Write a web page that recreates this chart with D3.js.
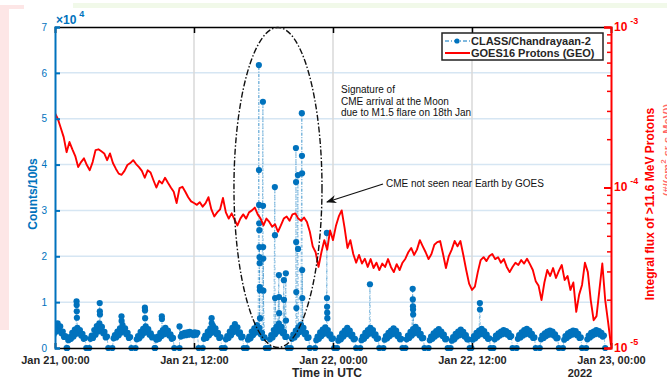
<!DOCTYPE html>
<html>
<head>
<meta charset="utf-8">
<script src="https://cdn.jsdelivr.net/npm/d3@7"></script>
<style>
  body { margin: 0; background: #fff; }
  svg { display: block; font-family: "Liberation Sans", Arial, sans-serif; }
</style>
</head>
<body>
<div id="chart"></div>
<script>
// CLASS/Chandrayaan-2 counts (left) vs GOES16 proton flux (right, log)

const timeTicks = [0, 12, 24, 36, 48]; // hours from Jan 21 00:00 UTC
const timeTickLabels = ['Jan 21, 00:00', 'Jan 21, 12:00', 'Jan 22, 00:00', 'Jan 22, 12:00', 'Jan 23, 00:00'];
const countTicks = [0, 1, 2, 3, 4, 5, 6, 7]; // x 10^4
const fluxTicks = [1e-5, 1e-4, 1e-3];
const fluxTickExps = ['-5', '-4', '-3'];

// CLASS orbit humps: centre hour of each orbit, counts at fixed offsets round it
const orbitOffsets = [-0.85, -0.74, -0.63, -0.52, -0.41, -0.3, -0.19, -0.08, 0.03, 0.14, 0.25, 0.36, 0.47, 0.58, 0.69, 0.8];
const orbitCentres = [0.2, 1.9, 3.8, 5.8, 7.8, 9.5, 11.6, 13.6, 15.5, 17.4, 19.3, 21.2, 23.3,
    25.2, 27.2, 29.2, 31.1, 33.1, 35.0, 36.8, 38.7, 40.7, 42.7, 44.7, 46.7];
const orbitCounts = [
    [0, 2200, 2900, 2400, 3800, 3000, 4600, 3600, 5400, 4000, 4700, 3200, 3600, 2400, 2600, 0],
    [0, 1700, 2400, 2000, 3300, 2500, 4000, 3100, 4400, 3300, 3900, 2700, 3100, 2000, 2200, 0],
    [0, 2000, 2700, 2200, 3900, 2900, 4800, 3600, 5400, 4000, 4600, 3200, 3500, 2300, 2500, 0],
    [0, 2100, 2800, 2300, 3600, 2800, 4300, 3400, 5000, 3700, 4300, 3000, 3300, 2200, 2400, 0],
    [0, 1900, 2600, 2100, 3500, 2700, 4200, 3300, 4700, 3500, 4100, 2900, 3200, 2300, 2400, 0],
    [0, 1800, 2500, 2000, 3300, 2600, 3900, 3000, 4400, 3200, 3800, 2700, 3000, 2000, 2200, 0],
    [0, 2500, 3100, 2700, 3300, 2800, 3400, 2900, 3500, 3000, 3300, 2800, 3400, 2900, 3300, 0],
    [0, 2000, 2700, 2200, 3600, 2800, 4300, 3300, 4900, 3600, 4300, 3000, 3300, 2200, 2400, 0],
    [0, 1900, 2600, 2200, 3600, 2800, 4400, 3500, 5200, 3900, 4500, 3100, 3400, 2300, 2500, 0],
    [0, 1800, 2500, 2100, 3600, 2800, 4300, 3400, 5000, 3800, 4400, 3000, 3300, 2200, 2300, 0],
    [0, 1900, 2800, 2300, 3900, 3000, 4600, 3600, 5300, 3900, 4600, 3200, 3500, 2400, 2500, 0],
    [0, 2000, 2900, 2300, 3800, 2900, 4500, 3500, 5100, 3700, 4400, 3000, 3300, 2200, 2300, 0],
    [0, 1700, 2500, 2000, 3400, 2600, 4000, 3100, 4500, 3300, 3900, 2700, 3000, 2000, 2100, 0],
    [0, 1600, 2300, 1900, 3200, 2500, 3800, 3000, 4400, 3200, 3800, 2600, 2900, 1900, 2000, 0],
    [0, 1700, 2500, 2000, 3300, 2600, 3900, 3100, 4400, 3300, 3900, 2700, 3000, 2000, 2100, 0],
    [0, 1800, 2600, 2100, 3300, 2600, 3800, 3000, 4300, 3200, 3800, 2600, 2900, 1900, 2000, 0],
    [0, 1900, 2700, 2200, 3500, 2700, 4100, 3200, 4600, 3400, 4000, 2800, 3100, 2100, 2200, 0],
    [0, 1700, 2500, 2000, 3200, 2500, 3700, 2900, 4100, 3100, 3600, 2600, 2900, 1900, 2000, 0],
    [0, 1600, 2400, 1900, 3100, 2500, 3600, 2800, 4000, 3000, 3500, 2500, 2800, 1900, 1900, 0],
    [0, 1800, 2600, 2100, 3300, 2600, 3800, 3000, 4200, 3100, 3700, 2600, 2900, 2000, 2100, 0],
    [0, 1900, 2700, 2300, 3200, 2700, 3600, 3000, 3900, 3200, 3700, 2900, 3300, 2400, 2600, 0],
    [0, 2000, 2800, 2300, 3400, 2700, 3900, 3000, 4200, 3200, 3800, 2800, 3100, 2200, 2300, 0],
    [0, 1900, 2700, 2200, 3200, 2600, 3600, 2900, 3800, 3000, 3600, 2700, 3000, 2100, 2200, 0],
    [0, 1800, 2600, 2200, 3200, 2600, 3500, 2900, 3800, 3100, 3700, 2800, 3100, 2200, 2300, 0],
    [0, 1900, 2700, 2300, 3300, 2700, 3600, 3000, 3900, 3200, 3700, 2900, 3300, 2500, 2700, 0]
];

// isolated high readings (CME signature between ~17 and ~24 h)
const spikeHours = [1.86, 1.87, 1.88, 1.89, 3.86, 3.87, 3.88, 5.74, 5.75, 7.76, 7.77, 7.78, 9.22, 9.23, 10.75, 13.52, 13.53,
    17.60, 17.61, 17.62, 17.63, 17.64, 17.65, 17.66, 17.67, 17.68, 17.69, 17.70,
    17.95, 17.96, 17.97, 17.98, 17.99, 18.98, 18.99, 19.00, 19.33, 19.34, 19.35, 19.76, 19.77, 19.93, 19.94,
    20.80, 20.81, 20.82, 20.83, 20.84, 20.97, 20.98, 21.31, 21.32, 21.33, 21.34, 21.35,
    23.47, 23.48, 23.49, 23.50, 23.51, 27.19, 30.88, 30.89, 30.90, 30.91, 30.92, 36.68, 36.69];
const spikeCounts = [10200, 9400, 8000, 6600, 9800, 8000, 7300, 6900, 5900, 8800, 8200, 6500, 6900, 6300, 4700, 6500, 5400,
    61700, 38800, 31200, 27200, 25700, 22000, 19800, 18500, 13300, 12600, 6500,
    53700, 31000, 22000, 19500, 12500, 35100, 24600, 10900, 15900, 11100, 7600, 14800, 10500, 16300, 6000,
    43600, 36200, 23100, 12200, 8700, 37700, 21600, 51200, 41900, 38100, 17000, 10900,
    25100, 10900, 9000, 7700, 6500, 13900, 12900, 10600, 9100, 8400, 7300, 9800, 8400];

// GOES16 >11.6 MeV integral proton flux, sampled every 15 min from Jan 21 00:00
const protonStepHours = 0.25;
const protonFlux = [
    2.9e-4, 2.67e-4, 2.35e-4, 2.06e-4, 1.66e-4, 1.92e-4, 1.73e-4, 1.57e-4, 1.34e-4, 1.44e-4, 1.52e-4, 1.38e-4, 1.28e-4, 1.44e-4, 1.71e-4, 1.73e-4,
    1.68e-4, 1.63e-4, 1.48e-4, 1.63e-4, 1.42e-4, 1.31e-4, 1.22e-4, 1.20e-4, 1.27e-4, 1.38e-4, 1.42e-4, 1.48e-4, 1.40e-4, 1.34e-4, 1.27e-4, 1.15e-4,
    1.28e-4, 1.24e-4, 1.11e-4, 1.00e-4, 1.10e-4, 1.06e-4, 1.15e-4, 1.07e-4, 1.00e-4, 9.4e-5, 8.0e-5, 9.9e-5, 1.01e-4, 9.4e-5, 8.7e-5, 8.2e-5,
    8.0e-5, 7.8e-5, 8.1e-5, 7.6e-5, 8.0e-5, 8.7e-5, 7.3e-5, 6.6e-5, 7.0e-5, 7.3e-5, 8.6e-5, 7.0e-5, 6.4e-5, 6.9e-5, 6.3e-5, 5.8e-5,
    6.4e-5, 6.8e-5, 6.4e-5, 7.0e-5, 7.2e-5, 7.5e-5, 6.8e-5, 6.4e-5, 5.8e-5, 6.4e-5, 6.1e-5, 5.7e-5, 5.9e-5, 5.3e-5, 5.8e-5, 6.4e-5,
    6.6e-5, 6.2e-5, 6.8e-5, 6.9e-5, 6.4e-5, 6.2e-5, 6.5e-5, 6.1e-5, 5.3e-5, 4.3e-5, 3.95e-5, 3.2e-5, 3.95e-5, 4.7e-5, 4.1e-5, 5.4e-5,
    4.7e-5, 5.75e-5, 6.6e-5, 7.2e-5, 5.6e-5, 4.2e-5, 4.7e-5, 3.85e-5, 3.4e-5, 3.8e-5, 3.36e-5, 3.6e-5, 3.2e-5, 3.58e-5, 3.15e-5, 3.4e-5,
    3.06e-5, 3.36e-5, 3.2e-5, 3.58e-5, 3.2e-5, 2.97e-5, 3.33e-5, 3.06e-5, 3.4e-5, 3.6e-5, 3.95e-5, 4.2e-5, 3.8e-5, 4.1e-5, 4.7e-5, 4.3e-5,
    3.95e-5, 3.58e-5, 3.85e-5, 4.4e-5, 4.57e-5, 4.64e-5, 3.85e-5, 3.15e-5, 3.74e-5, 4.1e-5, 4.64e-5, 4.3e-5, 4.64e-5, 3.8e-5, 3.06e-5, 2.52e-5,
    2.3e-5, 2.41e-5, 2.97e-5, 3.53e-5, 3.68e-5, 3.48e-5, 3.74e-5, 3.85e-5, 3.58e-5, 3.68e-5, 3.4e-5, 3.58e-5, 3.2e-5, 2.97e-5, 3.2e-5, 3.4e-5,
    3.29e-5, 3.53e-5, 3.36e-5, 3.6e-5, 3.33e-5, 3.06e-5, 2.61e-5, 2.44e-5, 1.99e-5, 2.56e-5, 3.06e-5, 2.81e-5, 3.15e-5, 2.73e-5, 3.02e-5, 3.29e-5,
    2.65e-5, 2.81e-5, 2.3e-5, 2.56e-5, 1.68e-5, 2.15e-5, 2.47e-5, 3.4e-5, 2.97e-5, 1.99e-5, 1.49e-5, 1.58e-5, 2.3e-5, 3.36e-5, 1.99e-5, 1.45e-5, 1.04e-5
];

const W = 667, H = 379;
const plot = { left: 55, right: 611, top: 27, bottom: 348 };
const BLUE = '#0072BD', RED = '#ff0000', TXT = '#262626';

const x = d3.scaleLinear().domain([0, 48]).range([plot.left, plot.right]);
const yCount = d3.scaleLinear().domain([0, 70000]).range([plot.bottom, plot.top]);
const yFlux = d3.scaleLog().domain([1e-5, 1e-3]).range([plot.bottom, plot.top]);

const svg = d3.select('#chart').append('svg').attr('width', W).attr('height', H);

// faint slide background remnants
svg.append('rect').attr('x', 0).attr('y', 5).attr('width', 9).attr('height', 325).attr('fill', '#fde6e6');
svg.append('rect').attr('x', 0).attr('y', 5).attr('width', 24).attr('height', 9).attr('fill', '#fde6e6');
svg.append('rect').attr('x', 73).attr('y', 3).attr('width', 594).attr('height', 5).attr('fill', '#f1f9e9');
svg.append('rect').attr('x', 9).attr('y', 9).attr('width', 658).attr('height', 370).attr('fill', '#fff');

svg.append('defs').append('clipPath').attr('id', 'plot-clip')
    .append('rect').attr('x', plot.left).attr('y', plot.top - 4)
    .attr('width', plot.right - plot.left).attr('height', plot.bottom - plot.top + 8);

// grid
const grid = svg.append('g');
grid.selectAll('line.hgrid').data(countTicks.slice(1, -1)).enter().append('line')
    .attr('x1', plot.left).attr('x2', plot.right)
    .attr('y1', d => yCount(d * 1e4)).attr('y2', d => yCount(d * 1e4))
    .attr('stroke', '#d6e6f3').attr('stroke-width', 1.5);
grid.selectAll('line.vgrid').data(timeTicks.slice(1, -1)).enter().append('line')
    .attr('x1', d => x(d)).attr('x2', d => x(d))
    .attr('y1', plot.top).attr('y2', plot.bottom)
    .attr('stroke', '#d9d9d9').attr('stroke-width', 1.5);

// CLASS series
const classPoints = [];
orbitCentres.forEach((c, i) => orbitCounts[i].forEach((v, j) => classPoints.push({ t: c + orbitOffsets[j], v })));
spikeHours.forEach((t, i) => classPoints.push({ t, v: spikeCounts[i] }));
classPoints.sort((a, b) => a.t - b.t);

const dataG = svg.append('g').attr('clip-path', 'url(#plot-clip)');
dataG.append('path').datum(classPoints)
    .attr('d', d3.line().x(d => x(d.t)).y(d => yCount(d.v)))
    .attr('fill', 'none').attr('stroke', BLUE).attr('stroke-opacity', 0.55)
    .attr('stroke-width', 0.8).attr('stroke-dasharray', '3,1.5,1,1.5');
dataG.selectAll('circle.cls').data(classPoints).enter().append('circle')
    .attr('cx', d => x(d.t)).attr('cy', d => yCount(d.v)).attr('r', 3.1)
    .attr('fill', BLUE);

// GOES series
const protonPoints = protonFlux.map((f, i) => ({ t: i * protonStepHours, f }));
dataG.append('path').datum(protonPoints)
    .attr('d', d3.line().x(d => x(d.t)).y(d => yFlux(d.f)))
    .attr('fill', 'none').attr('stroke', RED).attr('stroke-width', 1.9).attr('stroke-linejoin', 'round');

// axes
const fontTick = g => g.selectAll('text').style('font-size', '12px').style('font-weight', 'bold');

const xAxisG = svg.append('g').attr('transform', `translate(0,${plot.bottom})`)
    .call(d3.axisBottom(x).tickValues(timeTicks).tickFormat((d, i) => timeTickLabels[i]).tickSize(-5).tickPadding(8));
xAxisG.select('.domain').attr('stroke', '#000').attr('stroke-width', 1.5);
xAxisG.selectAll('.tick line').attr('stroke', '#000').attr('stroke-width', 1.5);
xAxisG.selectAll('.tick text').attr('fill', TXT).style('font-size', '11px').style('font-weight', 'bold');

const topG = svg.append('g').attr('transform', `translate(0,${plot.top})`)
    .call(d3.axisTop(x).tickValues(timeTicks).tickFormat('').tickSize(-6));
topG.select('.domain').attr('stroke', '#000').attr('stroke-width', 1.5);
topG.selectAll('.tick line').attr('stroke', '#000').attr('stroke-width', 1.5);

const yLeftG = svg.append('g').attr('transform', `translate(${plot.left},0)`)
    .call(d3.axisLeft(yCount).tickValues(countTicks.map(d => d * 1e4)).tickFormat(d => d / 1e4).tickSize(-5).tickPadding(8));
yLeftG.select('.domain').attr('stroke', BLUE).attr('stroke-width', 2);
yLeftG.selectAll('.tick line').attr('stroke', BLUE).attr('stroke-width', 2);
yLeftG.selectAll('.tick text').attr('fill', BLUE).call(fontTick);

const yRightMinor = svg.append('g').attr('transform', `translate(${plot.right},0)`)
    .call(d3.axisRight(yFlux).tickValues(yFlux.ticks().filter(d => !fluxTicks.some(m => Math.abs(m - d) / m < 1e-6))).tickFormat('').tickSize(-4));
yRightMinor.select('.domain').remove();
yRightMinor.selectAll('.tick line').attr('stroke', RED).attr('stroke-width', 1.5);

const yRightG = svg.append('g').attr('transform', `translate(${plot.right},0)`)
    .call(d3.axisRight(yFlux).tickValues(fluxTicks).tickFormat('').tickSize(-7));
yRightG.select('.domain').attr('stroke', RED).attr('stroke-width', 2);
yRightG.selectAll('.tick line').attr('stroke', RED).attr('stroke-width', 2);
const rt = yRightG.selectAll('.tick').append('text')
    .attr('x', 3).attr('y', 3).attr('fill', RED)
    .style('font-size', '12px').style('font-weight', 'bold').attr('text-anchor', 'start');
rt.append('tspan').text('10');
rt.append('tspan').attr('dx', 3).attr('dy', -7).style('font-size', '9px').text((d, i) => fluxTickExps[i]);

// exponent marker on the left axis
const expo = svg.append('text').attr('x', plot.left + 1).attr('y', 24).attr('fill', BLUE)
    .style('font-size', '12px').style('font-weight', 'bold');
expo.append('tspan').text('\u00d710');
expo.append('tspan').attr('dx', 3).attr('dy', -7).style('font-size', '9px').text('4');

// axis titles
svg.append('text').attr('transform', 'translate(37,194) rotate(-90)').attr('text-anchor', 'middle')
    .attr('fill', BLUE).style('font-size', '12px').style('font-weight', 'bold').text('Counts/100s');
svg.append('text').attr('x', 327).attr('y', 376.5).attr('text-anchor', 'middle')
    .attr('fill', TXT).style('font-size', '12px').style('font-weight', 'bold').text('Time in UTC');
svg.append('text').attr('x', x(48) - 31).attr('y', 376.5).attr('text-anchor', 'middle')
    .attr('fill', TXT).style('font-size', '11px').style('font-weight', 'bold').text('2022');
svg.append('text').attr('transform', 'translate(654,204) rotate(-90)').attr('text-anchor', 'middle')
    .attr('fill', RED).style('font-size', '12px').style('font-weight', 'bold').text('Integral flux of >11.6 MeV Protons');
const unit = svg.append('text').attr('transform', 'translate(671,150) rotate(-90)').attr('text-anchor', 'middle')
    .attr('fill', RED).attr('fill-opacity', 0.6).style('font-size', '11px').style('font-weight', 'bold');
unit.append('tspan').text('(#/(cm');
unit.append('tspan').attr('dy', -5).style('font-size', '8px').text('2');
unit.append('tspan').attr('dy', 5).text(' sr s MeV))');

// CME annotation ellipse
const ellipseHours = [15.45, 23.05];
svg.append('ellipse')
    .attr('cx', x(d3.mean(ellipseHours))).attr('cy', yCount(35000))
    .attr('rx', (x(ellipseHours[1]) - x(ellipseHours[0])) / 2).attr('ry', (yCount(0) - yCount(70000)) / 2 - 0.5)
    .attr('fill', 'none').attr('stroke', '#111').attr('stroke-width', 1.4).attr('stroke-dasharray', '6,2,1.5,2');

const note = svg.append('text').attr('x', 341).attr('y', 93).attr('fill', '#111').style('font-size', '10px');
['Signature of', 'CME arrival at the Moon', 'due to M1.5 flare on 18th Jan'].forEach((s, i) => {
    note.append('tspan').attr('x', 341).attr('dy', i ? 11.5 : 0).text(s);
});
svg.append('text').attr('x', 386).attr('y', 187).attr('fill', '#111').style('font-size', '10px').text('CME not seen near Earth by GOES');

svg.select('defs').append('marker').attr('id', 'arrow').attr('viewBox', '0 0 10 10')
    .attr('refX', 9).attr('refY', 5).attr('markerWidth', 8).attr('markerHeight', 8).attr('orient', 'auto')
    .append('path').attr('d', 'M0,1 L10,5 L0,9 L3,5 Z').attr('fill', '#111');
svg.append('line').attr('x1', 383).attr('y1', 184).attr('x2', 327).attr('y2', 202)
    .attr('stroke', '#111').attr('stroke-width', 1.3).attr('marker-end', 'url(#arrow)');

// legend
const lg = svg.append('g').attr('transform', 'translate(442,33)');
lg.append('rect').attr('width', 161).attr('height', 27).attr('fill', '#fff').attr('stroke', '#222').attr('stroke-width', 1.5);
lg.append('line').attr('x1', 3).attr('x2', 28).attr('y1', 8).attr('y2', 8)
    .attr('stroke', BLUE).attr('stroke-width', 1).attr('stroke-dasharray', '4,2,1,2');
lg.append('circle').attr('cx', 15).attr('cy', 8).attr('r', 2.6).attr('fill', BLUE);
lg.append('line').attr('x1', 3).attr('x2', 28).attr('y1', 20).attr('y2', 20).attr('stroke', RED).attr('stroke-width', 2);
lg.append('text').attr('x', 29).attr('y', 12).attr('fill', TXT).style('font-size', '11px').style('font-weight', 'bold').text('CLASS/Chandrayaan-2');
lg.append('text').attr('x', 29).attr('y', 24).attr('fill', TXT).style('font-size', '11px').style('font-weight', 'bold').text('GOES16 Protons (GEO)');
</script>
</body>
</html>
